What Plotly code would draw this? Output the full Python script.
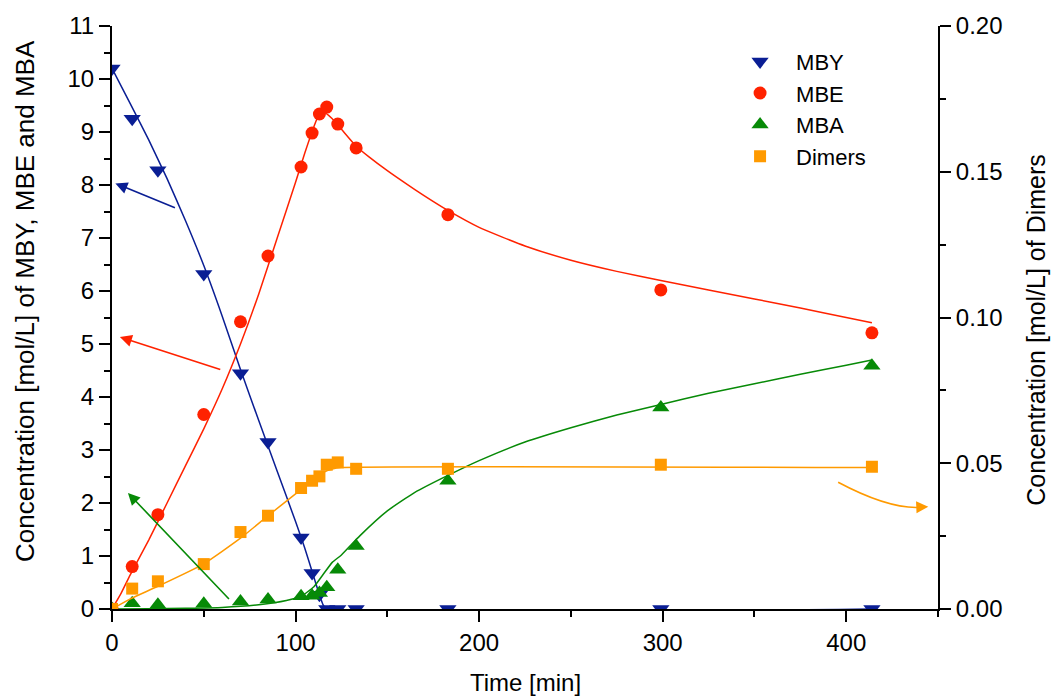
import plotly.graph_objects as go

# ---------------- data ----------------
time_pts = [0, 11, 25, 50, 70, 85, 103, 109, 113, 117, 123, 133, 183, 299, 414]
mby_pts = [10.2, 9.25, 8.28, 6.32, 4.45, 3.15, 1.35, 0.68, 0.27, 0, 0, 0, 0, 0, 0]
mbe_pts = [0, 0.80, 1.78, 3.67, 5.42, 6.66, 8.34, 8.98, 9.34, 9.47, 9.15, 8.70, 7.44, 6.02, 5.21]
mba_pts = [0, 0.11, 0.08, 0.10, 0.14, 0.18, 0.24, 0.25, 0.30, 0.41, 0.74, 1.19, 2.42, 3.80, 4.59]
dim_pts = [0, 0.0070, 0.0095, 0.0154, 0.0264, 0.0320, 0.0415, 0.0440, 0.0455, 0.0495, 0.0503,
           0.0481, 0.0481, 0.0495, 0.0488]

# model (fitted) curves
mby_fit_t = [0, 10, 20, 30, 40, 50, 60, 70, 80, 90, 100, 105, 110, 113, 115, 117, 414]
mby_fit_v = [10.2, 9.53, 8.85, 8.12, 7.33, 6.48, 5.53, 4.52, 3.55, 2.6, 1.65, 1.15, 0.6, 0.27, 0.08, 0, 0]

mbe_fit_t = [0, 5, 10, 20, 30, 40, 50, 60, 70, 80, 90, 100, 105, 110, 113, 115, 120, 125, 133,
             140, 150, 160, 170, 183, 200, 225, 250, 275, 299, 325, 350, 375, 400, 414]
mbe_fit_v = [0, 0.3, 0.65, 1.3, 2.0, 2.7, 3.4, 4.15, 5.0, 5.95, 7.0, 8.05, 8.6, 9.1, 9.35, 9.38,
             9.25, 9.05, 8.73, 8.53, 8.27, 8.03, 7.8, 7.52, 7.2, 6.85, 6.58, 6.37, 6.2, 6.02,
             5.85, 5.68, 5.5, 5.4]

mba_fit_t = [0, 20, 40, 60, 80, 95, 103, 110, 115, 120, 125, 135, 150, 165, 183, 200, 225, 250,
             275, 299, 325, 350, 375, 400, 414]
mba_fit_v = [0, 0.005, 0.015, 0.03, 0.08, 0.16, 0.24, 0.42, 0.65, 0.88, 1.02, 1.38, 1.85, 2.2,
             2.52, 2.8, 3.15, 3.42, 3.66, 3.86, 4.07, 4.25, 4.43, 4.6, 4.7]

dim_fit_t = [0, 10, 25, 50, 70, 85, 100, 110, 115, 120, 125, 414]
dim_fit_v = [0, 0.0035, 0.0078, 0.0155, 0.0243, 0.032, 0.0395, 0.0445, 0.0468, 0.048, 0.0485, 0.0485]

series_names = ["MBY", "MBE", "MBA", "Dimers"]
x_title = "Time [min]"
y_title = "Concentration [mol/L] of MBY, MBE and MBA"
y2_title = "Concentration [mol/L] of Dimers"

BLUE = "#0A1E94"
RED = "#FF2200"
GREEN = "#078A07"
ORANGE = "#FF9A00"
FONT = "Liberation Sans, Arial, sans-serif"

fig = go.Figure()

line_style = dict(width=1.5, shape="spline", smoothing=0.5)
# fitted lines
fig.add_trace(go.Scatter(x=mby_fit_t, y=mby_fit_v, mode="lines", line=dict(color=BLUE, **line_style), showlegend=False, hoverinfo="skip"))
fig.add_trace(go.Scatter(x=mbe_fit_t, y=mbe_fit_v, mode="lines", line=dict(color=RED, **line_style), showlegend=False, hoverinfo="skip"))
fig.add_trace(go.Scatter(x=mba_fit_t, y=mba_fit_v, mode="lines", line=dict(color=GREEN, **line_style), showlegend=False, hoverinfo="skip"))
fig.add_trace(go.Scatter(x=dim_fit_t, y=dim_fit_v, mode="lines", yaxis="y2", line=dict(color=ORANGE, **line_style), showlegend=False, hoverinfo="skip"))

# measured points
fig.add_trace(go.Scatter(x=time_pts, y=mby_pts, mode="markers", name=series_names[0],
                         marker=dict(symbol="triangle-down", size=15, color=BLUE)))
fig.add_trace(go.Scatter(x=time_pts, y=mbe_pts, mode="markers", name=series_names[1],
                         marker=dict(symbol="circle", size=13, color=RED)))
fig.add_trace(go.Scatter(x=time_pts, y=mba_pts, mode="markers", name=series_names[2],
                         marker=dict(symbol="triangle-up", size=15, color=GREEN)))
fig.add_trace(go.Scatter(x=time_pts, y=dim_pts, mode="markers", name=series_names[3], yaxis="y2",
                         marker=dict(symbol="square", size=12, color=ORANGE)))

def arrow(x, y, ax, ay, color):
    return dict(x=x, y=y, ax=ax, ay=ay, xref="x", yref="y", axref="x", ayref="y",
                showarrow=True, arrowhead=2, arrowsize=1.5, arrowwidth=1.6,
                arrowcolor=color, text="", standoff=0, startstandoff=0)

def title(text, x, y, angle, size):
    return dict(text=text, x=x, y=y, xref="paper", yref="paper", xanchor="center",
                yanchor="middle", showarrow=False, textangle=angle,
                font=dict(family=FONT, size=size, color="black"))

annotations = [
    arrow(1.85, 8.03, 35.1, 7.56, BLUE),
    arrow(4.3, 5.13, 59.8, 4.51, RED),
    arrow(8.7, 2.19, 64.5, 0.16, GREEN),
    arrow(444.7, 1.93, 438.0, 1.92, ORANGE),
    title(x_title, 0.5, -0.1264, 0, 24),
    title(y_title, -0.1053, 0.5285, -90, 26),
    title(y2_title, 1.1186, 0.479, -90, 25),
]

fig.add_shape(type="path", xref="x", yref="y",
              path="M 395.6,2.39 Q 423.8,1.87 441.2,1.92",
              line=dict(color=ORANGE, width=1.6))

axis_common = dict(showline=True, linecolor="black", linewidth=2, ticks="outside",
                   ticklen=11, tickwidth=2, tickcolor="black", showgrid=False, zeroline=False,
                   tickfont=dict(family=FONT, size=24, color="black"),
                   mirror=False)

fig.update_layout(
    width=1053, height=700,
    margin=dict(l=112, r=115, t=26, b=91, autoexpand=False),
    paper_bgcolor="white", plot_bgcolor="white",
    font=dict(family=FONT, color="black"),
    xaxis=dict(range=[0, 450], dtick=100, tick0=0,
               minor=dict(dtick=50, ticks="outside", ticklen=6, tickwidth=2, tickcolor="black"),
               **axis_common),
    yaxis=dict(range=[0, 11], dtick=1, tick0=0,
               minor=dict(dtick=0.5, ticks="outside", ticklen=6, tickwidth=2, tickcolor="black"),
               **axis_common),
    yaxis2=dict(range=[0, 0.2], dtick=0.05, tick0=0, tickformat=".2f", overlaying="y", side="right",
                minor=dict(dtick=0.025, ticks="outside", ticklen=6, tickwidth=2, tickcolor="black"),
                **axis_common),
    legend=dict(x=0.741, y=0.975, xanchor="left", yanchor="top", bgcolor="rgba(0,0,0,0)",
                font=dict(family=FONT, size=22), borderwidth=0, itemwidth=62),
    annotations=annotations,
)

fig.write_html("out.html")
